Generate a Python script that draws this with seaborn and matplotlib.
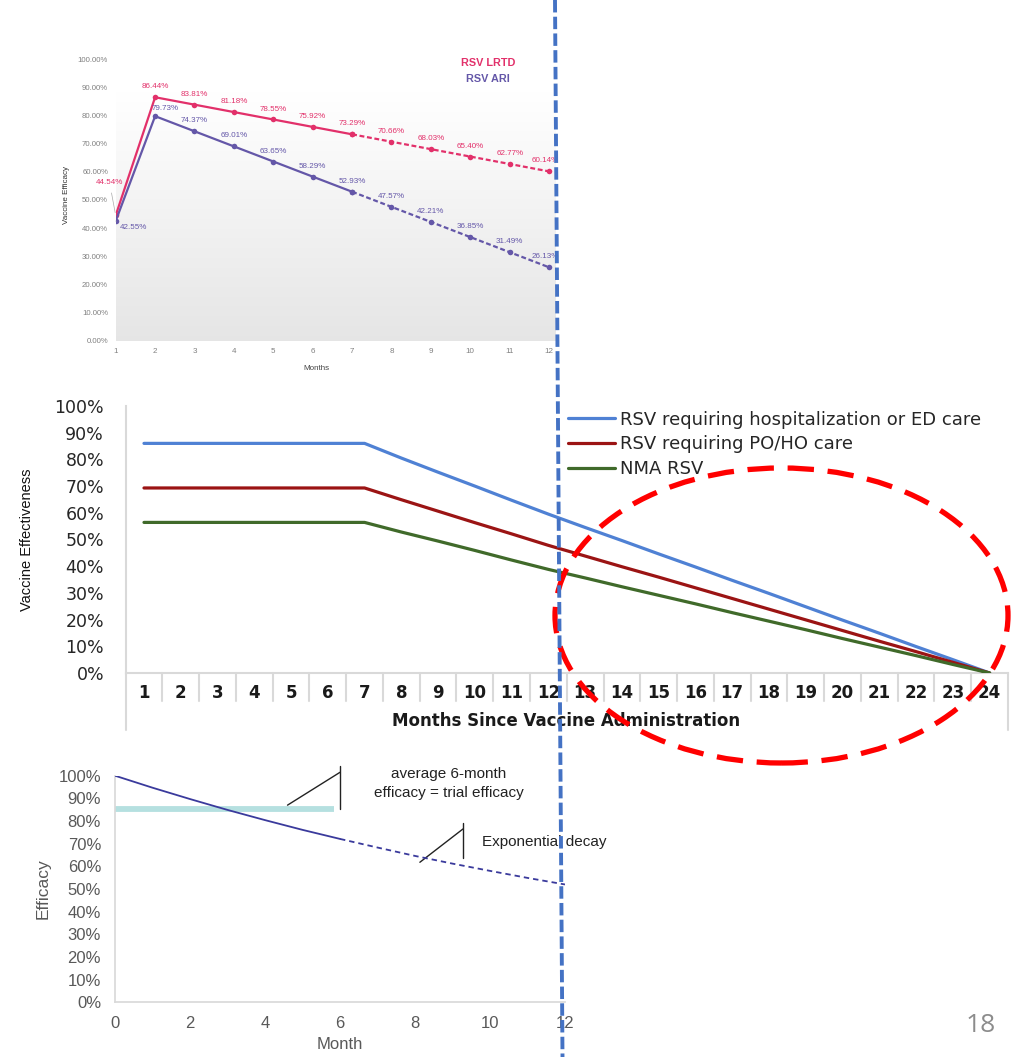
import numpy as np
import pandas as pd
import matplotlib
matplotlib.use("Agg")
import matplotlib.pyplot as plt
import seaborn as sns
from matplotlib.lines import Line2D
from matplotlib.patches import Ellipse
import matplotlib.transforms as mtransforms

# ---------------- data ----------------
# top chart
top_months = list(range(1, 13))
lrtd = [44.54, 86.44, 83.81, 81.18, 78.55, 75.92, 73.29, 70.66, 68.03, 65.40, 62.77, 60.14]
ari = [42.55, 79.73, 74.37, 69.01, 63.65, 58.29, 52.93, 47.57, 42.21, 36.85, 31.49, 26.13]
top_yticks = list(range(0, 101, 10))

# middle chart
mid_months = list(range(1, 25))
hosp_ed = [86, 86, 86, 86, 86, 86, 86, 80.5, 75.2, 70.0, 64.7, 59.5,
           54.5, 49.6, 44.6, 39.7, 34.7, 29.8, 24.8, 19.8, 14.9, 9.9, 5.0, 0]
po_ho = [69.3, 69.3, 69.3, 69.3, 69.3, 69.3, 69.3, 64.9, 60.6, 56.3, 52.1, 47.8,
         43.8, 39.8, 35.9, 31.9, 27.9, 23.9, 19.9, 15.9, 11.9, 8.0, 4.0, 0]
nma = [56.4, 56.4, 56.4, 56.4, 56.4, 56.4, 56.4, 52.8, 49.4, 45.9, 42.3, 38.8,
       35.6, 32.3, 29.1, 25.9, 22.6, 19.4, 16.2, 12.9, 9.7, 6.5, 3.2, 0]
mid_labels = ["RSV requiring hospitalization or ED care", "RSV requiring PO/HO care", "NMA RSV"]

# bottom chart
bot_months = list(range(0, 13))
efficacy = [100, 94.7, 89.7, 84.9, 80.4, 76.1, 72.1, 68.3, 64.6, 61.2, 58.0, 54.9, 52.0]
trial_eff = 85.5
trial_span = [0, 5.85]

# ---------------- styling ----------------
sns.set_theme(style="white")
plt.rcParams['font.family'] = ['DejaVu Sans']

W, H = 1030, 1057
fig = plt.figure(figsize=(W / 100, H / 100), dpi=100)
fig.patch.set_facecolor("white")


def pos(l, t, r, b):
    return [l / W, 1 - b / H, (r - l) / W, (b - t) / H]


NARROW = ['Liberation Sans Narrow', 'Liberation Sans', 'DejaVu Sans']
ARIAL = ['Liberation Sans', 'DejaVu Sans']

# ================= top chart =================
ax1 = fig.add_axes(pos(115.7, 59, 555, 341))
ax1.set_xlim(1, 12.15)
ax1.set_ylim(0, 100)
grad = np.linspace(0.90, 1.0, 256).reshape(-1, 1)
rgb = np.dstack([grad, grad, grad])
ax1.imshow(rgb, extent=[1, 12.15, 0, 88], origin='lower', aspect='auto', zorder=0)
ax1.set_facecolor("white")
for s in ax1.spines.values():
    s.set_visible(False)

pink = "#e2306a"
purple = "#6457a8"
dfp = pd.DataFrame({"m": top_months, "v": lrtd})
dfa = pd.DataFrame({"m": top_months, "v": ari})
for df, col in [(dfp, pink), (dfa, purple)]:
    sns.lineplot(data=df[df.m <= 7], x="m", y="v", ax=ax1, color=col, lw=1.6,
                 marker="o", markersize=4, markeredgewidth=0, zorder=3)
    sns.lineplot(data=df[df.m >= 7], x="m", y="v", ax=ax1, color=col, lw=1.6,
                 ls=(0, (2.2, 1.2)), marker="o", markersize=4, markeredgewidth=0, zorder=3)

lab_fs = 5.8
for i, (m, v) in enumerate(zip(top_months, lrtd)):
    if i == 0:
        ax1.annotate(f"{v:.2f}%", (m, v), xytext=(-4.5, 24), textcoords="offset points",
                     ha="center", va="center", fontsize=lab_fs, color=pink, family=NARROW,
                     arrowprops=dict(arrowstyle="-", color="#aaaaaa", lw=0.5, shrinkA=3, shrinkB=2))
    else:
        dx = -3 if m == 12 else 0
        ax1.annotate(f"{v:.2f}%", (m, v), xytext=(dx, 7.5), textcoords="offset points",
                     ha="center", va="center", fontsize=lab_fs, color=pink, family=NARROW)
for i, (m, v) in enumerate(zip(top_months, ari)):
    if i == 0:
        ax1.annotate(f"{v:.2f}%", (m, v), xytext=(12.5, -5), textcoords="offset points",
                     ha="center", va="center", fontsize=lab_fs, color=purple, family=NARROW,
                     arrowprops=dict(arrowstyle="-", color="#aaaaaa", lw=0.5, shrinkA=6, shrinkB=2))
    elif i == 1:
        ax1.annotate(f"{v:.2f}%", (m, v), xytext=(7.5, 5.2), textcoords="offset points",
                     ha="center", va="center", fontsize=lab_fs, color=purple, family=NARROW)
    else:
        dx = -3 if m == 12 else 0
        ax1.annotate(f"{v:.2f}%", (m, v), xytext=(dx, 7.5), textcoords="offset points",
                     ha="center", va="center", fontsize=lab_fs, color=purple, family=NARROW)

ax1.set_yticks(top_yticks)
ax1.set_yticklabels([f"{t:.2f}%" for t in top_yticks], fontsize=5.6, color="#808080", family=NARROW)
ax1.set_xticks(top_months)
ax1.set_xticklabels([str(m) for m in top_months], fontsize=5.8, color="#808080", family=NARROW)
ax1.tick_params(axis="y", length=0, pad=5.5)
ax1.tick_params(axis="x", length=0, pad=5)
ax1.set_xlabel("")
ax1.set_ylabel("")
fig.text(66 / W, 1 - 195 / H, "Vaccine Efficacy", rotation=90, ha="center", va="center",
         fontsize=5.8, color="#333333", family=NARROW)
fig.text(316 / W, 1 - 368 / H, "Months", ha="center", va="center",
         fontsize=5.8, color="#444444", family=NARROW)
fig.text(488 / W, 1 - 63 / H, "RSV LRTD", ha="center", va="center", fontsize=7.8,
         color=pink, weight="bold", family=NARROW)
fig.text(488 / W, 1 - 79 / H, "RSV ARI", ha="center", va="center", fontsize=7.8,
         color=purple, weight="bold", family=NARROW)

# ================= middle chart =================
ax2 = fig.add_axes(pos(125.6, 406, 1008, 673))
ax2.set_xlim(0.5, 24.5)
ax2.set_ylim(0, 100)
blue = "#4f81d4"
dred = "#9b1414"
dgreen = "#406a2a"
for vals, col, lab in [(hosp_ed, blue, mid_labels[0]), (po_ho, dred, mid_labels[1]),
                       (nma, dgreen, mid_labels[2])]:
    sns.lineplot(x=mid_months, y=vals, ax=ax2, color=col, lw=2.3, label=lab, zorder=3)

for s in ["top", "right"]:
    ax2.spines[s].set_visible(False)
gcol = "#d9d9d9"
ax2.spines["left"].set_color(gcol)
ax2.spines["bottom"].set_color(gcol)
ax2.spines["left"].set_linewidth(1.5)
ax2.spines["bottom"].set_linewidth(1.5)
ax2.set_yticks(range(0, 101, 10))
ax2.set_yticklabels([f"{t}%" for t in range(0, 101, 10)], fontsize=12.5, color="#262626")
ax2.set_xticks(mid_months)
ax2.set_xticklabels([str(m) for m in mid_months], fontsize=12, weight="bold", color="#1a1a1a")
ax2.tick_params(axis="y", length=5.5, width=1.2, color=gcol, direction="out", pad=10)
ax2.tick_params(axis="x", length=0, pad=8)
trans = mtransforms.blended_transform_factory(ax2.transData, ax2.transAxes)
for b in np.arange(1.5, 24.5, 1.0):
    ax2.plot([b, b], [0, -0.105], color=gcol, lw=1.5, transform=trans, clip_on=False, zorder=1)
ax2.plot([24.5, 24.5], [0, -0.215], color=gcol, lw=1.5, transform=trans, clip_on=False, zorder=1)
ax2.plot([0.5, 0.5], [0, -0.215], color=gcol, lw=1.5, transform=trans, clip_on=False, zorder=1)
ax2.set_ylim(0, 100)
ax2.set_xlabel("")
ax2.set_ylabel("")
fig.text(566 / W, 1 - 721 / H, "Months Since Vaccine Administration", ha="center", va="center",
         fontsize=12, weight="bold", color="#1a1a1a")
fig.text(27 / W, 1 - 540 / H, "Vaccine Effectiveness", rotation=90, ha="center", va="center",
         fontsize=10.5, color="#111111", family=NARROW)
leg = ax2.legend(loc="upper left", bbox_to_anchor=((561 - 125.6) / 882.4, 1.01),
                 frameon=False, fontsize=13, handlelength=2.6, handletextpad=0.25,
                 labelspacing=0.38, borderaxespad=0)
for t in leg.get_texts():
    t.set_color("#262626")

# ================= bottom chart =================
ax3 = fig.add_axes(pos(115, 775.7, 565, 1002.3))
ax3.set_xlim(0, 12)
ax3.set_ylim(0, 100)
navy = "#3a3a9c"
dfe = pd.DataFrame({"m": bot_months, "v": efficacy})
sns.lineplot(data=dfe[dfe.m <= 6], x="m", y="v", ax=ax3, color=navy, lw=1.3, zorder=3)
sns.lineplot(data=dfe[dfe.m >= 6], x="m", y="v", ax=ax3, color=navy, lw=1.3,
             ls=(0, (3, 2.2)), zorder=3)
ax3.plot(trial_span, [trial_eff, trial_eff], color="#b5e0e0", lw=4.2, solid_capstyle="butt", zorder=2)
for s in ["top", "right"]:
    ax3.spines[s].set_visible(False)
ax3.spines["left"].set_color(gcol)
ax3.spines["bottom"].set_color(gcol)
ax3.set_yticks(range(0, 101, 10))
ax3.set_yticklabels([f"{t}%" for t in range(0, 101, 10)], fontsize=12, color="#595959", family=ARIAL)
ax3.set_xticks(range(0, 13, 2))
ax3.set_xticklabels([str(t) for t in range(0, 13, 2)], fontsize=12, color="#595959", family=ARIAL)
ax3.tick_params(axis="y", length=6, width=1, color=gcol, direction="out", pad=4)
ax3.tick_params(axis="x", length=5, width=1, color=gcol, direction="in", pad=10)
ax3.set_xlabel("Month", fontsize=12, color="#595959", family=ARIAL, labelpad=4)
ax3.set_ylabel("Efficacy", fontsize=12.5, color="#595959", family=ARIAL, labelpad=6)
# callout brackets
ax3.plot([6.0, 6.0], [104.5, 85.5], color="#222222", lw=1.0, clip_on=False)
ax3.plot([4.6, 6.0], [87.0, 101.5], color="#222222", lw=1.0, clip_on=False)
ax3.plot([9.28, 9.28], [79.0, 63.7], color="#222222", lw=1.0, clip_on=False)
ax3.plot([8.13, 9.28], [61.8, 76.5], color="#222222", lw=1.0, clip_on=False)
fig.text(449 / W, 1 - 774 / H, "average 6-month", ha="center", va="center", fontsize=11,
         color="#222222", family=ARIAL)
fig.text(449 / W, 1 - 793 / H, "efficacy = trial efficacy", ha="center", va="center", fontsize=11,
         color="#222222", family=ARIAL)
fig.text(482 / W, 1 - 842 / H, "Exponential decay", ha="left", va="center", fontsize=11,
         color="#222222", family=ARIAL)

# slide number
fig.text(981 / W, 1 - 1026 / H, "18", ha="center", va="center", fontsize=19,
         color="#8c8c8c", family=['Open Sans', 'DejaVu Sans'])

# ================= overlays =================
ell = Ellipse((781.5 / W, 1 - 615.5 / H), 453 / W, 295 / H, transform=fig.transFigure,
              fill=False, edgecolor="#ff0000", lw=3.8, ls=(0, (5, 2.6)), zorder=10)
fig.add_artist(ell)
vline = Line2D([555 / W, 562.5 / W], [1.0, 0.0], transform=fig.transFigure, color="#4472c4",
               lw=2.8, ls=(0, (3.2, 1.1)), zorder=11)
fig.add_artist(vline)

fig.savefig("out.png", dpi=100, facecolor="white")
